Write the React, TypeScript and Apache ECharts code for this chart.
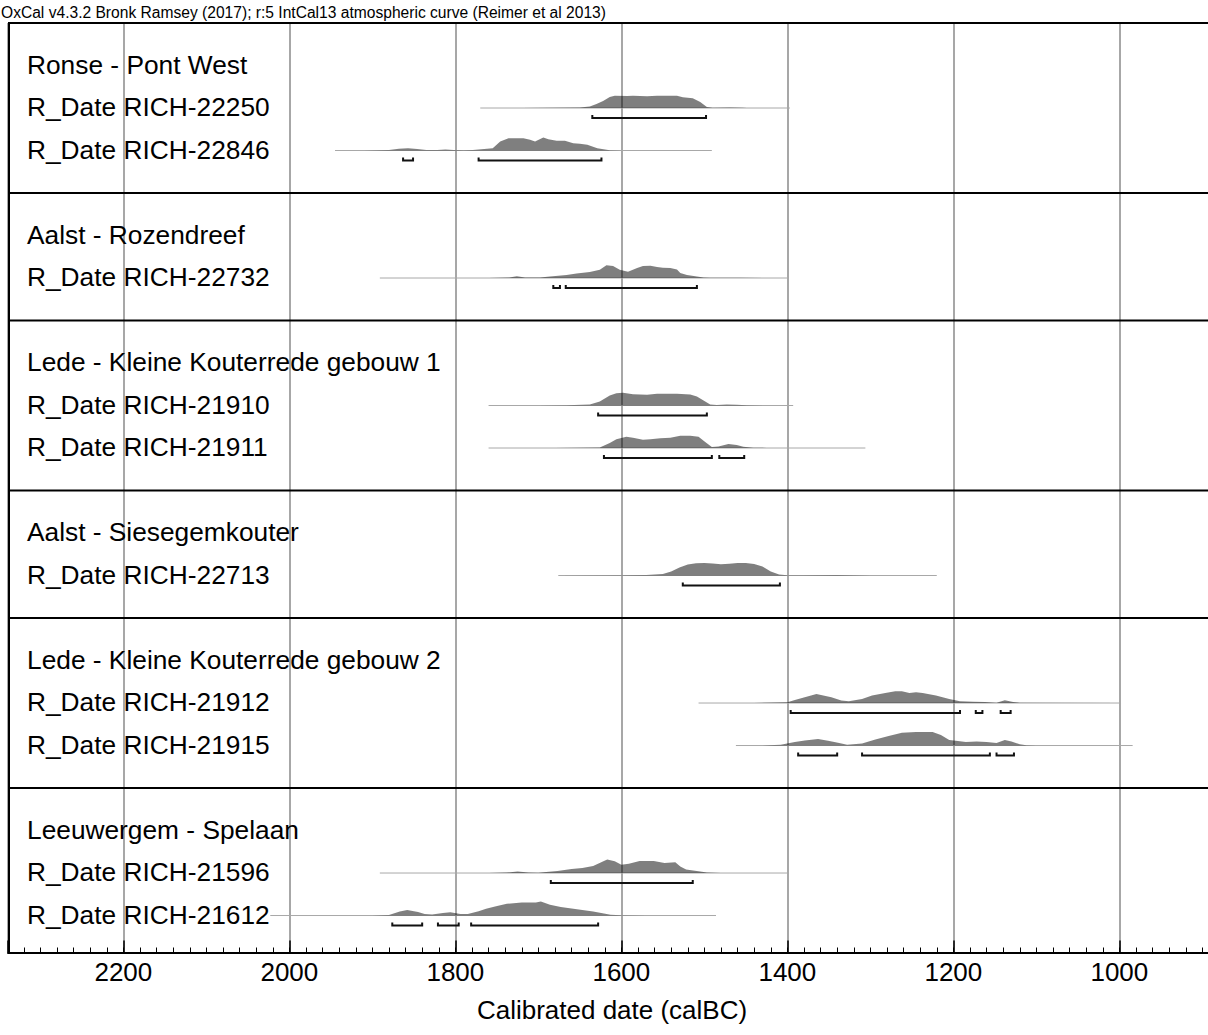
import React, { useEffect, useRef } from "react";
import * as echarts from "echarts";

const FONT = "'Liberation Sans', Arial, sans-serif";
const TITLE = "OxCal v4.3.2 Bronk Ramsey (2017); r:5 IntCal13 atmospheric curve (Reimer et al 2013)";
const AXIS_NAME = "Calibrated date (calBC)";
const xTickLabels = [2200, 2000, 1800, 1600, 1400, 1200, 1000];
const X_MIN = 800;
const X_MAX = 2339;
const Y_MIN = -1;
const Y_MAX = 20.87;

const sectionNames = [
  "Ronse - Pont West",
  "Aalst - Rozendreef",
  "Lede - Kleine Kouterrede gebouw 1",
  "Aalst - Siesegemkouter",
  "Lede - Kleine Kouterrede gebouw 2",
  "Leeuwergem - Spelaan",
];
const sectionDates = [
  ["RICH-22250", "RICH-22846"],
  ["RICH-22732"],
  ["RICH-21910", "RICH-21911"],
  ["RICH-22713"],
  ["RICH-21912", "RICH-21915"],
  ["RICH-21596", "RICH-21612"],
];

// [calBC, relative probability]
const dist_RICH_22250 = [[1770,0],[1720,0.1],[1686,0.2],[1650,0.5],[1638,1.5],[1630,4],[1622,7],[1614,11],[1608,12.3],[1593,12],[1586,12.3],[1569,11.8],[1557,12.3],[1533,12.3],[1526,10.7],[1514,9.7],[1505,6],[1497,1],[1490,0.3],[1469,0.5],[1454,0.3],[1449,0.1],[1397,0]];
const dist_RICH_22846 = [[1945,0],[1910,0.1],[1880,0.6],[1868,1.8],[1857,2.3],[1846,1.6],[1835,0.4],[1822,0.5],[1812,1],[1802,0.6],[1790,0.3],[1779,0.5],[1755,2.3],[1746,9],[1736,12.3],[1718,12.3],[1710,10.7],[1704,9],[1694,13],[1688,11.3],[1678,9.7],[1668,9.7],[1658,7.3],[1650,6.7],[1641,5.7],[1629,2.3],[1614,0.3],[1600,0.1],[1491,0]];
const dist_RICH_22732 = [[1891,0],[1760,0.1],[1735,0.5],[1726,1.7],[1716,0.4],[1698,0.4],[1686,1.5],[1666,3],[1654,4.5],[1638,6],[1626,8.3],[1618,12.7],[1610,12],[1602,8.3],[1592,6.3],[1581,10],[1574,12],[1565,12.3],[1557,11],[1550,10.3],[1541,10],[1533,8.5],[1529,5],[1521,3],[1509,1.5],[1501,0.5],[1493,0.3],[1457,0.2],[1420,0.05],[1399,0]];
const dist_RICH_21910 = [[1760,0],[1700,0.1],[1666,0.3],[1638,1],[1626,4],[1614,10],[1606,12.3],[1598,12.7],[1586,11.3],[1569,10.7],[1557,11.7],[1545,11.7],[1533,11.7],[1517,11],[1509,9],[1501,5],[1493,1],[1485,0.5],[1473,1],[1461,0.7],[1449,0.2],[1393,0]];
const dist_RICH_21911 = [[1760,0],[1680,0.1],[1626,0.5],[1614,5],[1606,8.7],[1594,11.3],[1586,10.3],[1574,8.3],[1565,8.7],[1553,9.7],[1541,10.3],[1529,12.3],[1517,12.3],[1507,11.3],[1499,6],[1491,1],[1483,1.5],[1471,4],[1461,3],[1453,1.3],[1441,0.3],[1425,0.1],[1306,0]];
const dist_RICH_22713 = [[1676,0],[1600,0.2],[1570,0.5],[1550,1.5],[1540,4],[1530,8],[1520,11],[1510,12.3],[1500,12.5],[1490,12],[1480,11.3],[1470,11.7],[1460,12.5],[1450,12.5],[1440,11.5],[1430,9],[1420,4],[1410,1],[1400,0.3],[1380,0.2],[1340,0.4],[1320,0.2],[1300,0.05],[1220,0]];
const dist_RICH_21912 = [[1507,0],[1440,0.1],[1400,0.7],[1391,3],[1365,9.1],[1347,5.7],[1335,2.4],[1326,1.7],[1310,4],[1298,7.4],[1282,10.1],[1270,11.8],[1262,11.8],[1253,10.1],[1245,10.8],[1237,10.1],[1221,7.4],[1205,4],[1192,1.7],[1176,1.3],[1162,1],[1148,0.3],[1138,2.7],[1128,1],[1120,0.2],[998,0]];
const dist_RICH_21915 = [[1462,0],[1430,0.1],[1408,0.7],[1391,3.4],[1379,5],[1363,6.4],[1351,4.7],[1339,2.7],[1328,0.7],[1310,2],[1294,6.1],[1278,9.4],[1262,12.8],[1245,13.5],[1225,13.5],[1215,10.4],[1205,5.4],[1197,4.7],[1185,3.4],[1172,4],[1160,3.4],[1148,2.4],[1138,5.4],[1130,4],[1120,1.3],[1112,0.3],[1100,0.05],[984,0]];
const dist_RICH_21596 = [[1891,0],[1760,0.05],[1738,0.4],[1725,1.4],[1712,0.4],[1700,0.2],[1694,0.7],[1677,2.1],[1660,3.9],[1647,5],[1634,7.1],[1621,12.1],[1617,13.6],[1608,11.8],[1600,8.2],[1591,9.3],[1578,12.1],[1561,12.1],[1548,10],[1535,10.7],[1529,6.4],[1522,3.6],[1505,1.4],[1497,0.4],[1480,0.1],[1398,0]];
const dist_RICH_21612 = [[2023,0],[1900,0.05],[1880,0.4],[1867,3.9],[1858,5.4],[1845,3.6],[1837,1.4],[1828,1.1],[1815,2.5],[1806,3.2],[1794,1.4],[1785,1.4],[1772,4.3],[1763,6.8],[1751,9.3],[1738,11.8],[1720,12.9],[1703,12.9],[1697,13.9],[1686,10.7],[1673,8.6],[1660,7.1],[1647,5.4],[1634,3.9],[1621,2.1],[1613,0.7],[1600,0.2],[1570,0.1],[1486,0]];

// 95.4% ranges [from, to] calBC
const range_RICH_22250 = [[1635, 1498]];
const range_RICH_22846 = [[1863, 1851], [1772, 1624]];
const range_RICH_22732 = [[1682, 1674], [1667, 1509]];
const range_RICH_21910 = [[1628, 1497]];
const range_RICH_21911 = [[1621, 1491], [1482, 1452]];
const range_RICH_22713 = [[1526, 1409]];
const range_RICH_21912 = [[1396, 1192], [1173, 1165], [1143, 1131]];
const range_RICH_21915 = [[1387, 1340], [1310, 1156], [1148, 1127]];
const range_RICH_21596 = [[1685, 1514]];
const range_RICH_21612 = [[1876, 1840], [1821, 1796], [1781, 1628]];

const distributions: Record<string, number[][]> = {
  "RICH-22250": dist_RICH_22250, "RICH-22846": dist_RICH_22846, "RICH-22732": dist_RICH_22732,
  "RICH-21910": dist_RICH_21910, "RICH-21911": dist_RICH_21911, "RICH-22713": dist_RICH_22713,
  "RICH-21912": dist_RICH_21912, "RICH-21915": dist_RICH_21915, "RICH-21596": dist_RICH_21596,
  "RICH-21612": dist_RICH_21612,
};
const ranges: Record<string, number[][]> = {
  "RICH-22250": range_RICH_22250, "RICH-22846": range_RICH_22846, "RICH-22732": range_RICH_22732,
  "RICH-21910": range_RICH_21910, "RICH-21911": range_RICH_21911, "RICH-22713": range_RICH_22713,
  "RICH-21912": range_RICH_21912, "RICH-21915": range_RICH_21915, "RICH-21596": range_RICH_21596,
  "RICH-21612": range_RICH_21612,
};

const PROB_TO_ROW = 1 / 42.5;
const CHART_W = 1300;

type Item = { kind: "border" | "vborder" | "label" | "date"; row: number; text?: string; id?: string };

function buildItems(): Item[] {
  const items: Item[] = [{ kind: "border", row: Y_MIN }, { kind: "vborder", row: Y_MIN }];
  let r = 0;
  sectionNames.forEach((name, si) => {
    items.push({ kind: "label", row: r, text: name });
    sectionDates[si].forEach((id, di) => {
      const row = r + 1 + di;
      items.push({ kind: "date", row, id });
      items.push({ kind: "label", row, text: "R_Date " + id });
    });
    r += sectionDates[si].length + 1;
    if (si < sectionNames.length - 1) items.push({ kind: "border", row: r });
    r += 1;
  });
  return items;
}

export default function App() {
  const ref = useRef<HTMLDivElement>(null);
  useEffect(() => {
    document.body.style.margin = "0";
    document.body.style.overflow = "hidden";
    if (!ref.current) return;
    const chart = echarts.init(ref.current, null, { renderer: "svg" });
    const items = buildItems();
    const pxPerYear = 0.83;
    const plotWidth = (X_MAX - X_MIN) * pxPerYear;
    const option: any = {
      animation: false,
      backgroundColor: "#fff",
      grid: { left: 8, top: 23, bottom: 82.5, right: CHART_W - 8 - plotWidth, containLabel: false },
      xAxis: [
        {
          type: "value", inverse: true, min: X_MIN, max: X_MAX, interval: 200, position: "bottom",
          axisLine: { show: true, onZero: false, lineStyle: { color: "#000", width: 2 } },
          axisTick: { show: true, inside: true, length: 12, lineStyle: { color: "#000", width: 1.5 } },
          axisLabel: {
            show: true, margin: 6, fontSize: 26, color: "#000", fontFamily: FONT,
            formatter: (v: number) => (xTickLabels.includes(v) ? String(v) : ""),
          },
          splitLine: { show: true, lineStyle: { color: "#8a8a8a", width: 1.5 } },
        },
        {
          type: "value", inverse: true, min: X_MIN, max: X_MAX, interval: 20, position: "bottom",
          axisLine: { show: false, onZero: false },
          axisTick: { show: true, inside: true, length: 5, lineStyle: { color: "#000", width: 1 } },
          axisLabel: { show: false },
          splitLine: { show: false },
        },
      ],
      yAxis: { type: "value", inverse: true, min: Y_MIN, max: Y_MAX, show: false },
      graphic: [
        { type: "text", left: 1, top: 4, style: { text: TITLE, fontSize: 15.6, fontFamily: FONT, fill: "#000" } },
        { type: "text", x: 612, y: 1010, style: { text: AXIS_NAME, fontSize: 26, fontFamily: FONT, fill: "#000", align: "center", verticalAlign: "middle" } },
      ],
      series: [
        {
          type: "custom",
          xAxisIndex: 0,
          yAxisIndex: 0,
          clip: false,
          data: items.map((it) => [1600, it.row]),
          renderItem: (params: any, api: any) => {
            const it = items[params.dataIndex];
            if (it.kind === "border") {
              const a = api.coord([X_MAX, it.row]);
              const b = api.coord([X_MIN, it.row]);
              return { type: "line", shape: { x1: a[0], y1: a[1], x2: b[0], y2: b[1] }, style: { stroke: "#000", lineWidth: 2 } };
            }
            if (it.kind === "vborder") {
              const a = api.coord([X_MAX, Y_MIN]);
              const b = api.coord([X_MAX, Y_MAX]);
              return { type: "line", shape: { x1: a[0] + 1, y1: a[1], x2: b[0] + 1, y2: b[1] }, style: { stroke: "#000", lineWidth: 2 } };
            }
            if (it.kind === "label") {
              const p = api.coord([X_MAX, it.row]);
              return {
                type: "text", x: p[0] + 19, y: p[1] - 1,
                style: { text: it.text, fontSize: 26.3, fontFamily: FONT, fill: "#000", align: "left", verticalAlign: "middle" },
              };
            }
            const dist = distributions[it.id as string];
            const rg = ranges[it.id as string];
            const pts = dist.map(([bc, p]) => api.coord([bc, it.row - p * PROB_TO_ROW]));
            const b0 = api.coord([dist[0][0], it.row]);
            const b1 = api.coord([dist[dist.length - 1][0], it.row]);
            const children: any[] = [
              { type: "line", shape: { x1: b0[0], y1: b0[1], x2: b1[0], y2: b1[1] }, style: { stroke: "#a8a8a8", lineWidth: 1 } },
              { type: "polygon", shape: { points: pts }, style: { fill: "rgba(0,0,0,0.5)", stroke: null } },
            ];
            rg.forEach(([f, t]) => {
              const pf = api.coord([f, it.row]);
              const pt = api.coord([t, it.row]);
              const y = pf[1] + 10;
              children.push({
                type: "polyline",
                shape: { points: [[pf[0], y - 3], [pf[0], y], [pt[0], y], [pt[0], y - 3]] },
                style: { stroke: "#111", lineWidth: 2, fill: null },
              });
            });
            return { type: "group", children };
          },
        },
      ],
    };
    chart.setOption(option);
    return () => chart.dispose();
  }, []);
  return (
    <div style={{ width: 1208, height: 1035, overflow: "hidden", position: "relative" }}>
      <div ref={ref} style={{ width: CHART_W, height: 1035 }} />
    </div>
  );
}
